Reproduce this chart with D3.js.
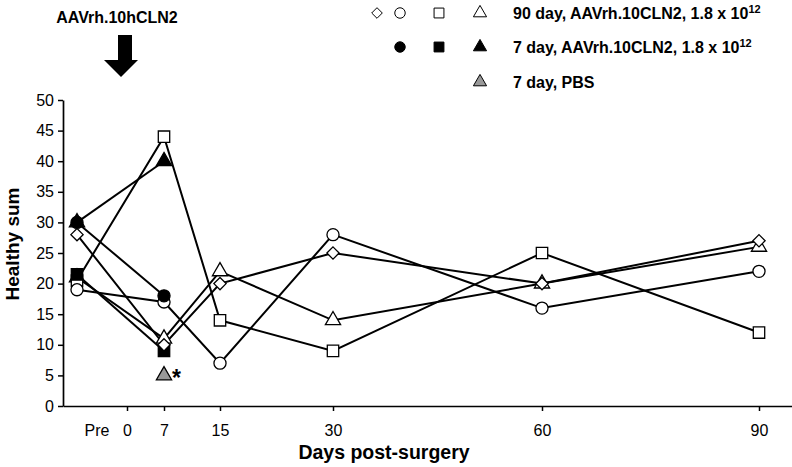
<!DOCTYPE html>
<html><head><meta charset="utf-8">
<script src="https://cdn.jsdelivr.net/npm/d3@7"></script>
<style>
body{margin:0;background:#fff;}
svg{display:block;font-family:"Liberation Sans",Arial,sans-serif;}
</style></head><body>
<svg id="c" width="792" height="467"></svg>
<script>
// x: "Pre" coded as -7
const days = [-7, 0, 7, 15, 30, 60, 90];
const tickDays = [0, 7, 15, 30, 60, 90];
const tickLabels = ["0", "7", "15", "30", "60", "90"];
const preLabel = "Pre";
const yTicks = [0,5,10,15,20,25,30,35,40,45,50];

// 90 day group (open markers)
const x90 = [-7, 7, 15, 30, 60, 90];
const diamond90 = [28, 10, 20, 25, 20, 27];
const circle90 = [19, 17, 7, 28, 16, 22];
const square90 = [20.5, 44, 14, 9, 25, 12];
const triangle90 = [21, 11, 22, 14, 20, 26];

// 7 day group (filled markers)
const x7 = [-7, 7];
const circle7 = [30, 18];
const square7 = [21.5, 9];
const triangle7 = [30, 40];

// PBS
const xPBS = [7];
const trianglePBS = [5];

const legendLabels = ["90 day, AAVrh.10CLN2, 1.8 x 10", "7 day, AAVrh.10CLN2, 1.8 x 10", "7 day, PBS"];
const legendSup = ["12", "12", ""];

const svg = d3.select("#c");
const x = d3.scaleLinear()
  .domain([-9.1, -7, 0, 7, 15, 30, 60, 90, 104.5])
  .range([63, 77, 127, 164, 220, 333, 542, 759, 792]);
const y = d3.scaleLinear().domain([0, 50]).range([406, 100]);

// axes
const yAx = svg.append("g").attr("transform", "translate(63,0)")
  .call(d3.axisLeft(y).tickValues(yTicks).tickSize(5).tickSizeOuter(0));
yAx.select(".domain").attr("stroke-width", 1.7);
yAx.selectAll(".tick line").attr("stroke-width", 1.5);
yAx.selectAll("text").attr("font-size", 16).attr("font-family", "Liberation Sans, Arial").attr("fill", "#000").attr("dx", -1);

const xAx = svg.append("g").attr("transform", "translate(0,406)")
  .call(d3.axisBottom(x).tickValues(tickDays).tickFormat((d,i)=>tickLabels[i]).tickSize(5).tickSizeOuter(0));
xAx.select(".domain").attr("stroke-width", 1.7);
xAx.selectAll(".tick line").attr("stroke-width", 1.5);
xAx.selectAll("text").attr("font-size", 16).attr("font-family", "Liberation Sans, Arial").attr("fill", "#000").attr("dy", "1.35em");
svg.append("text").attr("x", x(-7) + 20).attr("y", 436).attr("text-anchor", "middle")
  .attr("font-size", 16).text(preLabel);

// axis titles
svg.append("text").attr("x", 384).attr("y", 459).attr("text-anchor", "middle")
  .attr("font-size", 19.5).attr("font-weight", "bold").text("Days post-surgery");
svg.append("text").attr("transform", "translate(19,244) rotate(-90)").attr("text-anchor", "middle")
  .attr("font-size", 19).attr("font-weight", "bold").text("Healthy sum");

// annotation
svg.append("text").attr("x", 117).attr("y", 23).attr("text-anchor", "middle")
  .attr("font-size", 16).attr("font-weight", "bold").text("AAVrh.10hCLN2");
svg.append("path").attr("d", "M118,35 L132,35 L132,60 L138,60 L121,77 L104,60 L118,60 Z").attr("fill", "#000");

// symbols
const sqDiamond = {
  draw(ctx, size) {
    const r = Math.sqrt(size / 2);
    ctx.moveTo(0, -r); ctx.lineTo(r, 0); ctx.lineTo(0, r); ctx.lineTo(-r, 0); ctx.closePath();
  }
};
function sym(type, size) { return d3.symbol().type(type).size(size)(); }
const T = {
  diamond: sqDiamond, circle: d3.symbolCircle, square: d3.symbolSquare, triangle: d3.symbolTriangle
};
const sizes = {diamond: 75, circle: 115, square: 130, triangle: 100};

const series = [
  {xs: x90, ys: diamond90, t: "diamond", fill: "#fff"},
  {xs: x90, ys: circle90, t: "circle", fill: "#fff"},
  {xs: x90, ys: square90, t: "square", fill: "#fff"},
  {xs: x90, ys: triangle90, t: "triangle", fill: "#fff"},
  {xs: x7, ys: circle7, t: "circle", fill: "#000"},
  {xs: x7, ys: square7, t: "square", fill: "#000"},
  {xs: x7, ys: triangle7, t: "triangle", fill: "#000"},
  {xs: xPBS, ys: trianglePBS, t: "triangle", fill: "#999"}
];

const line = d3.line().x(d => x(d[0])).y(d => y(d[1]));
series.forEach(s => {
  const pts = s.xs.map((d, i) => [d, s.ys[i]]);
  if (pts.length > 1)
    svg.append("path").attr("d", line(pts)).attr("fill", "none").attr("stroke", "#000").attr("stroke-width", 2);
});
const order = [3, 2, 1, 6, 5, 4, 0, 7];
order.forEach(k => {
  const s = series[k];
  s.xs.forEach((d, i) => {
    svg.append("path").attr("d", sym(T[s.t], sizes[s.t]))
      .attr("transform", `translate(${x(d)},${y(s.ys[i])})`)
      .attr("fill", s.fill).attr("stroke", "#000").attr("stroke-width", 1.3);
  });
});
// asterisk
svg.append("text").attr("x", x(7) + 8).attr("y", y(trianglePBS[0]) + 11)
  .attr("font-size", 23).attr("font-weight", "bold").text("*");

// legend
const legRows = [
  {y: 13, items: [["diamond", 377, "#fff"], ["circle", 400, "#fff"], ["square", 439, "#fff"], ["triangle", 480, "#fff"]]},
  {y: 47, items: [["circle", 400, "#000"], ["square", 439, "#000"], ["triangle", 480, "#000"]]},
  {y: 82, items: [["triangle", 480, "#999"]]}
];
legRows.forEach((r, i) => {
  r.items.forEach(it => {
    svg.append("path").attr("d", sym(T[it[0]], sizes[it[0]] * 0.75))
      .attr("transform", `translate(${it[1]},${r.y})`)
      .attr("fill", it[2]).attr("stroke", "#000").attr("stroke-width", 1);
  });
  const t = svg.append("text").attr("x", 513).attr("y", r.y + 6)
    .attr("font-size", 16).attr("font-weight", "bold").text(legendLabels[i]);
  if (legendSup[i]) t.append("tspan").attr("dy", -6).attr("font-size", 11).text(legendSup[i]);
});
</script>
</body></html>
